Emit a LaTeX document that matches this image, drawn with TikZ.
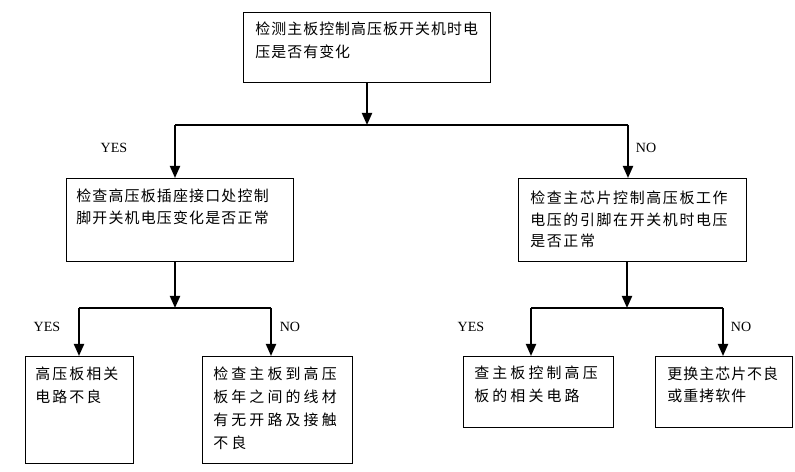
\documentclass[tikz,border=0pt]{standalone}
\usepackage{fontspec}
\newfontfamily\cjka[LetterSpace=7]{Noto Sans CJK SC}
\newfontfamily\cjkb[LetterSpace=14]{Noto Sans CJK SC}
\newfontfamily\cjkc[LetterSpace=21]{Noto Sans CJK SC}
\newfontfamily\cjkl[LetterSpace=8]{Noto Sans CJK SC}
\newfontfamily\cjkr[LetterSpace=11]{Noto Sans CJK SC}
\newfontfamily\labfont{Liberation Serif}
\usetikzlibrary{arrows.meta}
\tikzset{
    box/.style={draw, line width=0.6pt, anchor=north west, inner sep=0pt},
    txt/.style={anchor=north west, align=left, inner sep=0pt, font=#1\fontsize{8.5}{13}\selectfont},
    arr/.style={draw, line width=1.1pt, -{Triangle[length=0.24cm, width=0.2cm]}},
    bar/.style={draw, line width=0.8pt},
    lab/.style={inner sep=0pt, font=\labfont\fontsize{8}{9}\selectfont}
}
\begin{document}
\begin{tikzpicture}[x=0.02cm, y=-0.02cm]
        \useasboundingbox (0, 0) rectangle (795, 472);
        \begin{scope}
            % boxes
            \node[box, minimum width=4.94cm, minimum height=1.40cm] (b1) at (243, 12) {};
            \node[box, minimum width=4.54cm, minimum height=1.66cm] (b2) at (66, 178) {};
            \node[box, minimum width=4.56cm, minimum height=1.66cm] (b3) at (518, 178) {};
            \node[box, minimum width=2.16cm, minimum height=2.14cm] (b4) at (25, 356) {};
            \node[box, minimum width=3.00cm, minimum height=2.14cm] (b5) at (202, 356) {};
            \node[box, minimum width=3.00cm, minimum height=1.42cm] (b6) at (463, 356) {};
            \node[box, minimum width=2.74cm, minimum height=1.42cm] (b7) at (655, 356) {};
            % texts
            \node[txt=\cjka] (t1) at (255, 22) {检测主板控制高压板开关机时电\\压是否有变化};
            \node[txt=\cjkl, font=\cjkl\fontsize{8.5}{12.2}\selectfont] (t2) at (76, 189) {检查高压板插座接口处控制\\脚开关机电压变化是否正常};
            \node[txt=\cjkr, font=\cjkr\fontsize{8.5}{12}\selectfont] (t3) at (530, 191) {检查主芯片控制高压板工作\\电压的引脚在开关机时电压\\是否正常};
            \node[txt=\cjkb] (t4) at (35, 367) {高压板相关\\电路不良};
            \node[txt=\cjkc] (t5) at (213, 367) {检查主板到高压\\板年之间的线材\\有无开路及接触\\不良};
            \node[txt=\cjkc] (t6) at (474, 366) {查主板控制高压\\板的相关电路};
            \node[txt=\cjka] (t7) at (667, 366) {更换主芯片不良\\或重拷软件};
            % labels
            \node[lab] (y1) at (114, 148) {YES};
            \node[lab] (n1) at (646, 148) {NO};
            \node[lab] (y2) at (47, 327) {YES};
            \node[lab] (n2) at (290, 327) {NO};
            \node[lab] (y3) at (471, 327) {YES};
            \node[lab] (n3) at (741, 327) {NO};
        \end{scope}
        \begin{scope}
            \coordinate (c0l) at (175, 125);
            \coordinate (c0r) at (628, 125);
            \coordinate (c1) at (175, 308);
            \coordinate (c1l) at (79, 308);
            \coordinate (c1r) at (271, 308);
            \coordinate (c2) at (627, 308);
            \coordinate (c2l) at (531, 308);
            \coordinate (c2r) at (723, 308);
            \draw[arr] (b1.south) -- (b1.south |- c0l);
            \draw[bar] (c0l) -- (c0r);
            \draw[arr] (c0l) -- (c0l |- b2.north);
            \draw[arr] (c0r) -- (c0r |- b3.north);
            \draw[arr] (c1 |- b2.south) -- (c1);
            \draw[bar] (c1l) -- (c1r);
            \draw[arr] (c1l) -- (c1l |- b4.north);
            \draw[arr] (c1r) -- (c1r |- b5.north);
            \draw[arr] (c2 |- b3.south) -- (c2);
            \draw[bar] (c2l) -- (c2r);
            \draw[arr] (c2l) -- (c2l |- b6.north);
            \draw[arr] (c2r) -- (c2r |- b7.north);
        \end{scope}
    \end{tikzpicture}
\end{document}
